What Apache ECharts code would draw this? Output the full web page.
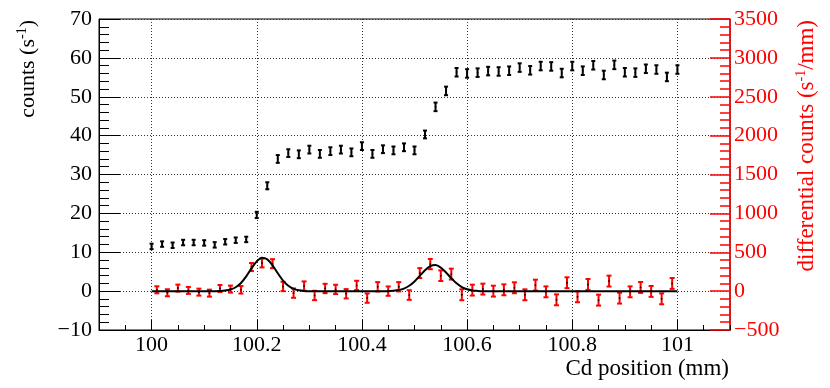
<!DOCTYPE html>
<html>
<head>
<meta charset="utf-8">
<script src="https://cdn.jsdelivr.net/npm/echarts@6/dist/echarts.min.js"></script>
<style>
  html, body { margin: 0; padding: 0; background: #fff; }
  #chart { width: 830px; height: 388px; }
</style>
</head>
<body>
<div id="chart"></div>
<script>
// Cd position scan: counts (left axis) and differential counts (right axis)
const posCounts = [100.00, 100.02, 100.04, 100.06, 100.08, 100.10, 100.12, 100.14, 100.16, 100.18,
  100.20, 100.22, 100.24, 100.26, 100.28, 100.30, 100.32, 100.34, 100.36, 100.38,
  100.40, 100.42, 100.44, 100.46, 100.48, 100.50, 100.52, 100.54, 100.56, 100.58,
  100.60, 100.62, 100.64, 100.66, 100.68, 100.70, 100.72, 100.74, 100.76, 100.78,
  100.80, 100.82, 100.84, 100.86, 100.88, 100.90, 100.92, 100.94, 100.96, 100.98, 101.00]
const counts = [11.5, 12.1, 11.8, 12.5, 12.5, 12.4, 11.9, 12.7, 13.1, 13.3,
  19.6, 27.1, 34.0, 35.5, 35.2, 36.4, 35.3, 36.0, 36.4, 35.7,
  37.3, 35.3, 36.5, 36.2, 37.0, 36.2, 40.3, 47.4, 51.5, 56.3,
  56.0, 56.2, 56.6, 56.5, 56.7, 57.5, 56.8, 57.9, 57.8, 56.1,
  57.9, 56.7, 58.1, 55.6, 58.2, 56.3, 56.2, 57.2, 57.0, 55.1, 57.0]
const countErr = [0.7, 0.7, 0.7, 0.7, 0.7, 0.7, 0.7, 0.7, 0.7, 0.7,
  0.8, 0.9, 1.0, 1.0, 1.0, 1.0, 1.0, 1.0, 1.0, 1.0,
  1.0, 1.0, 1.0, 1.0, 1.0, 1.0, 1.0, 1.1, 1.1, 1.1,
  1.1, 1.1, 1.1, 1.1, 1.1, 1.1, 1.1, 1.1, 1.1, 1.1,
  1.1, 1.1, 1.1, 1.1, 1.1, 1.1, 1.1, 1.1, 1.1, 1.1, 1.1]

const posDiff = [100.01, 100.03, 100.05, 100.07, 100.09, 100.11, 100.13, 100.15, 100.17, 100.19,
  100.21, 100.23, 100.25, 100.27, 100.29, 100.31, 100.33, 100.35, 100.37, 100.39,
  100.41, 100.43, 100.45, 100.47, 100.49, 100.51, 100.53, 100.55, 100.57, 100.59,
  100.61, 100.63, 100.65, 100.67, 100.69, 100.71, 100.73, 100.75, 100.77, 100.79,
  100.81, 100.83, 100.85, 100.87, 100.89, 100.91, 100.93, 100.95, 100.97, 100.99]
const diffCounts = [17, -21, 39, 9, -13, -26, 34, 26, 17, 310,
  361, 353, 60, -26, 65, -56, 34, 22, -34, 73,
  -90, 56, 0, 56, -50, 232, 348, 198, 219, -47,
  13, 26, 0, 17, 43, -47, 77, -9, -112, 108,
  -73, 86, -116, 129, -90, -9, 47, -4, -99, 99]
const diffErr = [45, 45, 45, 45, 45, 45, 45, 45, 48, 52,
  56, 58, 60, 60, 60, 60, 60, 60, 60, 60,
  60, 60, 60, 60, 62, 64, 66, 68, 70, 70,
  70, 70, 70, 70, 70, 70, 70, 70, 70, 70,
  70, 70, 70, 70, 70, 70, 70, 70, 70, 70]

// fitted curve (two peaks on a flat baseline)
const fitX = [100.00, 100.12, 100.13, 100.14, 100.15, 100.16, 100.17, 100.18, 100.19, 100.20,
  100.21, 100.22, 100.23, 100.24, 100.25, 100.26, 100.27, 100.28, 100.29, 100.30,
  100.45, 100.46, 100.47, 100.48, 100.49, 100.50, 100.51, 100.52, 100.53, 100.54,
  100.55, 100.56, 100.57, 100.58, 100.59, 100.60, 100.61, 100.62, 100.63, 101.00]
const fitY = [0, 0, 2, 7, 20, 50, 105, 190, 292, 383,
  430, 409, 332, 230, 136, 68, 29, 11, 3, 0,
  0, 5, 14, 33, 69, 124, 196, 268, 321, 335,
  303, 240, 166, 100, 52, 24, 9, 3, 0, 0]

const FONT = 'Liberation Serif'
const RED = '#ff0000'

const errorBars = (color, capW) => (params, api) => {
  const x = api.value(0)
  const y = api.value(1)
  const e = api.value(2)
  const top = api.coord([x, y + e])
  const bot = api.coord([x, y - e])
  const mid = api.coord([x, y])
  const st = { stroke: color, lineWidth: 2 }
  return {
    type: 'group',
    children: [
      { type: 'line', shape: { x1: top[0], y1: top[1], x2: bot[0], y2: bot[1] }, style: st },
      { type: 'line', shape: { x1: top[0] - capW / 2, y1: top[1], x2: top[0] + capW / 2, y2: top[1] }, style: st },
      { type: 'line', shape: { x1: bot[0] - capW / 2, y1: bot[1], x2: bot[0] + capW / 2, y2: bot[1] }, style: st },
      { type: 'rect', shape: { x: mid[0] - 0.75, y: mid[1] - 0.75, width: 1.5, height: 1.5 }, style: { fill: '#000' } }
    ]
  }
}

const minus = v => String(v).replace('-', '\u2212')

const chart = echarts.init(document.getElementById('chart'))

chart.setOption({
  animation: false,
  grid: {
    left: 99, right: 100, top: 19, bottom: 58,
    show: true, borderColor: '#000', borderWidth: 1, backgroundColor: 'transparent'
  },
  xAxis: [{
    type: 'value',
    min: 99.9,
    max: 101.1,
    position: 'bottom',
    axisLine: { onZero: false, lineStyle: { color: '#000', width: 1 } },
    axisTick: { inside: true, length: 10, lineStyle: { color: '#000' } },
    axisLabel: {
      color: '#000', fontFamily: FONT, fontSize: 22, margin: 4,
      showMinLabel: false, showMaxLabel: false
    },
    splitLine: { show: true, lineStyle: { color: '#333', type: [1, 2], width: 1 } }
  }, {
    type: 'value',
    min: 99.9,
    max: 101.1,
    interval: 0.05,
    position: 'bottom',
    axisLine: { show: false, onZero: false },
    axisTick: { inside: true, length: 5, lineStyle: { color: '#000' } },
    axisLabel: { show: false },
    splitLine: { show: false }
  }],
  yAxis: [{
    type: 'value',
    position: 'left',
    min: -10,
    max: 70,
    interval: 10,
    axisLine: { show: true, onZero: false, lineStyle: { color: '#000', width: 1 } },
    axisTick: { show: true, inside: true, length: 21, lineStyle: { color: '#000' } },
    minorTick: { show: true, splitNumber: 5, length: 10, lineStyle: { color: '#000' } },
    axisLabel: { color: '#000', fontFamily: FONT, fontSize: 22, margin: 7, formatter: minus },
    splitLine: { show: true, lineStyle: { color: '#333', type: [1, 2], width: 1 } }
  }, {
    type: 'value',
    position: 'right',
    min: -500,
    max: 3500,
    interval: 500,
    axisLine: { show: true, onZero: false, lineStyle: { color: RED, width: 1.5 } },
    axisTick: { show: true, inside: true, length: 20, lineStyle: { color: RED, width: 1.5 } },
    minorTick: { show: true, splitNumber: 5, length: 10, lineStyle: { color: RED, width: 1.5 } },
    axisLabel: { color: RED, fontFamily: FONT, fontSize: 22, margin: 4, formatter: minus },
    splitLine: { show: false }
  }],
  graphic: [{
    type: 'text',
    x: 28, y: 20,
    rotation: Math.PI / 2,
    style: {
      text: '{n|counts (s}{s|-1}{n|)}',
      align: 'right', verticalAlign: 'middle',
      fill: '#000',
      rich: {
        n: { fontFamily: FONT, fontSize: 22, lineHeight: 26, fill: '#000' },
        s: { fontFamily: FONT, fontSize: 14, lineHeight: 16, verticalAlign: 'top', fill: '#000' }
      }
    }
  }, {
    type: 'text',
    x: 807, y: 20,
    rotation: Math.PI / 2,
    style: {
      text: '{n|differential counts (s}{s|-1}{n|/mm)}',
      align: 'right', verticalAlign: 'middle',
      fill: RED,
      rich: {
        n: { fontFamily: FONT, fontSize: 23, lineHeight: 26, fill: RED },
        s: { fontFamily: FONT, fontSize: 14, lineHeight: 16, verticalAlign: 'top', fill: RED }
      }
    }
  }, {
    type: 'text',
    x: 729, y: 369,
    style: {
      text: 'Cd position (mm)',
      align: 'right', verticalAlign: 'middle',
      fontFamily: FONT, fontSize: 23, fill: '#000'
    }
  }],
  series: [{
    name: 'counts',
    type: 'custom',
    xAxisIndex: 0,
    yAxisIndex: 0,
    renderItem: errorBars('#000', 4),
    encode: { x: 0, y: 1 },
    data: posCounts.map((x, i) => [x, counts[i], countErr[i]]),
    z: 3
  }, {
    name: 'differential counts',
    type: 'custom',
    xAxisIndex: 0,
    yAxisIndex: 1,
    renderItem: errorBars(RED, 5),
    encode: { x: 0, y: 1 },
    data: posDiff.map((x, i) => [x, diffCounts[i], diffErr[i]]),
    z: 3
  }, {
    name: 'fit',
    type: 'line',
    xAxisIndex: 0,
    yAxisIndex: 1,
    data: fitX.map((x, i) => [x, fitY[i]]),
    showSymbol: false,
    smooth: 0.3,
    lineStyle: { color: '#000', width: 2 },
    z: 4
  }]
})
</script>
</body>
</html>
